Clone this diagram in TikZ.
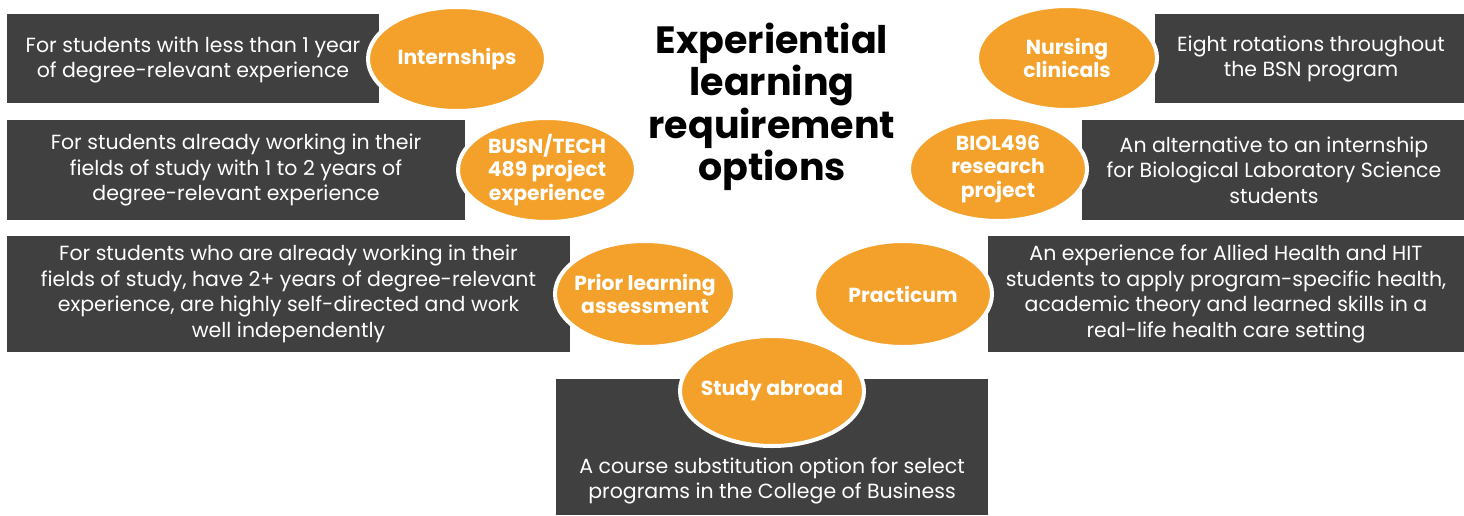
\documentclass[tikz,border=0pt]{standalone}
\usepackage{fontspec}
\setmainfont{Poppins}
\usetikzlibrary{shapes.geometric}
\definecolor{boxgray}{HTML}{404040}
\definecolor{orng}{HTML}{F3A12B}
\begin{document}
\begin{tikzpicture}[x=1pt,y=-1pt,
  box/.style={fill=boxgray, draw=none, inner sep=0pt},
  boxtext/.style={text=white, align=center, inner sep=0pt, font=\fontsize{20.5}{25.5}\selectfont},
  oval/.style={ellipse, fill=orng, draw=white, line width=4pt, text=white, align=center,
    inner xsep=-22pt, inner ysep=-10pt, font=\fontsize{20.3}{23.7}\selectfont\bfseries},
  title/.style={align=center, inner sep=0pt, font=\fontsize{38}{42.5}\selectfont\bfseries}
]
\useasboundingbox (0,0) rectangle (1464,515);
% rectangles
\node[box, minimum width=372pt, minimum height=89pt] (r1) at (193,58.5) {};
\node[box, minimum width=458pt, minimum height=100pt] (r2) at (236,170) {};
\node[box, minimum width=563pt, minimum height=116pt] (r3) at (288.5,294) {};
\node[box, minimum width=309pt, minimum height=89pt] (r4) at (1309.5,58.5) {};
\node[box, minimum width=382pt, minimum height=100pt] (r5) at (1273,170) {};
\node[box, minimum width=476pt, minimum height=116pt] (r6) at (1226,294) {};
\node[box, minimum width=432pt, minimum height=136pt] (r7) at (772,447) {};
% rectangle texts
\node[boxtext] (t1) at (193,60) {For students with less than 1 year\\of degree-relevant experience};
\node[boxtext] (t2) at (236,170) {For students already working in their\\fields of study with 1 to 2 years of\\degree-relevant experience};
\node[boxtext] (t3) at (288.5,294) {For students who are already working in their\\fields of study, have 2+ years of degree-relevant\\experience, are highly self-directed and work\\well independently};
\node[boxtext] (t4) at (1311,59) {Eight rotations throughout\\the BSN program};
\node[boxtext] (t5) at (1274,170) {An alternative to an internship\\for Biological Laboratory Science\\students};
\node[boxtext] (t6) at (1226,294) {An experience for Allied Health and HIT\\students to apply program-specific health,\\academic theory and learned skills in a\\real-life health care setting};
\node[boxtext] (t7) at (772,481) {A course substitution option for select\\programs in the College of Business};
% ovals
\node[oval, minimum width=178pt, minimum height=104pt] (e1) at (457,59) {Internships};
\node[oval, minimum width=178pt, minimum height=104pt] (e2) at (547,170) {BUSN/TECH\\489 project\\experience};
\node[oval, minimum width=180pt, minimum height=106pt] (e3) at (645,294) {Prior learning\\assessment};
\node[oval, minimum width=180pt, minimum height=104pt] (e4) at (1067,58) {Nursing\\clinicals};
\node[oval, minimum width=178pt, minimum height=104pt] (e5) at (998,169) {BIOL496\\research\\project};
\node[oval, minimum width=178pt, minimum height=106pt] (e6) at (903,294) {Practicum};
\node[oval, minimum width=184pt, minimum height=110pt] (e7) at (772,391) {Study abroad};
% title
\node[title] (ttl) at (772,107) {Experiential\\learning\\requirement\\options};
\end{tikzpicture}
\end{document}
